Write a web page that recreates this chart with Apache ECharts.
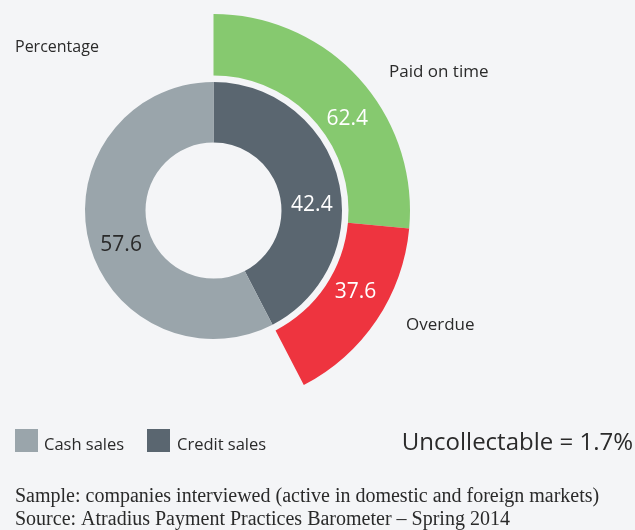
<!DOCTYPE html>
<html>
<head>
<meta charset="utf-8">
<script src="https://cdn.jsdelivr.net/npm/echarts@6/dist/echarts.min.js"></script>
<style>
html,body{margin:0;padding:0;background:#f4f5f7;}
#main{width:635px;height:530px;}
</style>
</head>
<body>
<div id="main"></div>
<script>
// Data
var innerNames = ['Credit sales', 'Cash sales'];
var innerValues = [42.4, 57.6];
var outerNames = ['Paid on time', 'Overdue'];
var outerValues = [62.4, 37.6]; // shares of credit sales
var uncollectable = 1.7;
var footnotes = [
  'Sample: companies interviewed (active in domestic and foreign markets)',
  'Source: Atradius Payment Practices Barometer \u2013 Spring 2014'
];

var innerColors = ['#5a6670', '#9aa5ab'];
var outerColors = ['#86c96f', '#ee343f'];
var SANS = '"Open Sans", "Noto Sans", sans-serif';
var SERIF = '"Liberation Serif", "DejaVu Serif", serif';
var center = [213.5, 210.5];

var credit = innerValues[0];
var outerData = outerValues.map(function (v, i) {
  return { name: outerNames[i], value: v * credit / 100, shown: v, itemStyle: { color: outerColors[i] } };
});
outerData.push({ name: 'rest', value: innerValues[1], shown: null, itemStyle: { color: 'rgba(0,0,0,0)' }, label: { show: false }, emphasis: { disabled: true } });

var innerData = innerValues.map(function (v, i) {
  return { name: innerNames[i], value: v, itemStyle: { color: innerColors[i] },
    label: { color: i === 0 ? '#ffffff' : '#2a2a2a' } };
});

var innerOffsets = [[0, 18], [6, 11]];
var outerOffsets = [[9, 22], [2, -13], [0, 0]];

var chart = echarts.init(document.getElementById('main'), null, { renderer: 'canvas' });
chart.setOption({
  backgroundColor: '#f4f5f7',
  animation: false,
  series: [
    {
      type: 'pie',
      center: center,
      radius: [68, 128.5],
      startAngle: 90,
      clockwise: true,
      silent: true,
      label: { show: true, position: 'inside', fontFamily: SANS, fontSize: 21, formatter: function (p) { return p.value.toFixed(1); } },
      labelLayout: function (p) { var o = innerOffsets[p.dataIndex]; return { dx: o[0], dy: o[1] }; },
      labelLine: { show: false },
      data: innerData
    },
    {
      type: 'pie',
      center: center,
      radius: [135, 196.5],
      startAngle: 90,
      clockwise: true,
      silent: true,
      label: { show: true, position: 'inside', fontFamily: SANS, fontSize: 21, color: '#ffffff',
        formatter: function (p) { return p.data.shown == null ? '' : p.data.shown.toFixed(1); } },
      labelLayout: function (p) { var o = outerOffsets[p.dataIndex]; return { dx: o[0], dy: o[1] }; },
      labelLine: { show: false },
      data: outerData
    }
  ],
  graphic: [
    { type: 'text', left: 15, top: 39, style: { text: 'Percentage', font: '16px ' + SANS, fill: '#2a2a2a' } },
    { type: 'text', left: 389, top: 64, style: { text: outerNames[0], font: '17px ' + SANS, fill: '#2a2a2a' } },
    { type: 'text', left: 406, top: 317, style: { text: outerNames[1], font: '17px ' + SANS, fill: '#2a2a2a' } },
    { type: 'rect', shape: { x: 15, y: 429, width: 23, height: 23 }, style: { fill: innerColors[1] } },
    { type: 'text', left: 44, top: 437, style: { text: innerNames[1], font: '16.5px ' + SANS, fill: '#2a2a2a' } },
    { type: 'rect', shape: { x: 147, y: 429, width: 23, height: 23 }, style: { fill: innerColors[0] } },
    { type: 'text', left: 177, top: 437, style: { text: innerNames[0], font: '16.5px ' + SANS, fill: '#2a2a2a' } },
    { type: 'text', right: 2, top: 431, style: { text: 'Uncollectable = ' + uncollectable + '%', font: '24px ' + SANS, fill: '#2a2a2a' } },
    { type: 'text', left: 15, top: 487, style: { text: footnotes[0], font: '20px ' + SERIF, fill: '#2a2a2a' } },
    { type: 'text', left: 15, top: 510, style: { text: footnotes[1], font: '20px ' + SERIF, fill: '#2a2a2a' } }
  ]
});
</script>
</body>
</html>
